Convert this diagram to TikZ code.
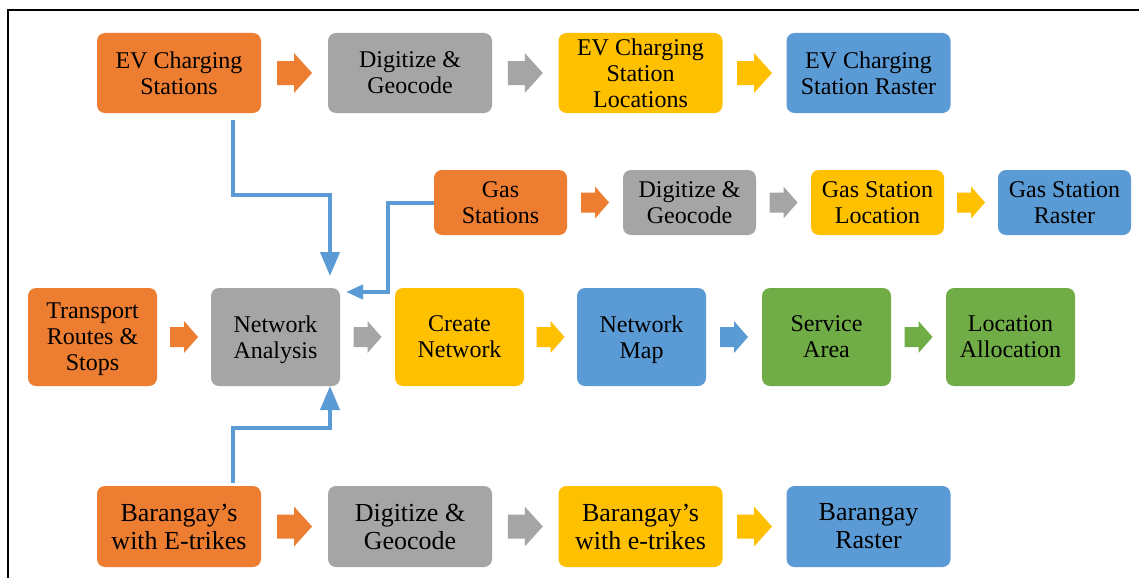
\documentclass[tikz,border=0pt]{standalone}
\usepackage{fontspec}
\setmainfont{Liberation Serif}
\usetikzlibrary{arrows.meta,calc}

\definecolor{cOrange}{HTML}{ED7D31}
\definecolor{cGray}{HTML}{A5A5A5}
\definecolor{cYellow}{HTML}{FFC000}
\definecolor{cBlue}{HTML}{5B9BD5}
\definecolor{cGreen}{HTML}{70AD47}

\tikzset{
  box/.style={rounded corners=8pt, inner sep=0pt, outer sep=0pt, align=center,
    text=black, font=\fontsize{24}{26}\selectfont},
  rowA/.style={box, minimum width=164pt, minimum height=80pt},
  rowB/.style={box, minimum width=133pt, minimum height=65pt},
  rowC/.style={box, minimum width=129pt, minimum height=98pt, text depth=0pt},
  rowD/.style={box, minimum width=164pt, minimum height=81pt,
    font=\fontsize{26}{28}\selectfont},
  link/.style={draw=cBlue, line width=4pt,
    -{Triangle[width=19pt,length=24pt]}},
  linksmall/.style={link, -{Triangle[width=14pt,length=17pt]}},
  frame/.style={draw=black, line width=1.2pt},
}

% block arrow centred between two nodes:
% #1 from, #2 to, #3 colour, #4 length, #5 half shaft, #6 half head, #7 head length
\newcommand\blockarrow[7]{%
  \coordinate (ba) at ($(#1.east)!0.5!(#2.west)$);
  \fill[#3] ([shift={(-#4/2,-#5)}]ba) -- ([shift={(#4/2-#7,-#5)}]ba)
    -- ([shift={(#4/2-#7,-#6)}]ba) -- ([shift={(#4/2,0)}]ba)
    -- ([shift={(#4/2-#7,#6)}]ba) -- ([shift={(#4/2-#7,#5)}]ba)
    -- ([shift={(-#4/2,#5)}]ba) -- cycle;}
\newcommand\bigarrow[3]{\blockarrow{#1}{#2}{#3}{35}{12}{20}{18}}
\newcommand\smallarrow[3]{\blockarrow{#1}{#2}{#3}{28}{10}{16}{14}}

\begin{document}
\begin{tikzpicture}[x=1pt,y=-1pt]
\useasboundingbox (0,0) rectangle (1139,578);
\fill[white] (0,0) rectangle (1139,578);
\draw[frame] (8,578) -- (8,10) -- (1139,10);

% EV charging row
\node[rowA, fill=cOrange] (ev)  at (179,73)   {EV Charging\\Stations};
\node[rowA, fill=cGray]   (dg1) at (410,73)   {Digitize \&\\Geocode};
\node[rowA, fill=cYellow] (evl) at (640.5,73) {EV Charging\\Station\\Locations};
\node[rowA, fill=cBlue]   (evr) at (868.5,73) {EV Charging\\Station Raster};

% gas station row
\node[rowB, fill=cOrange] (gas) at (500.5,202.5)  {Gas\\Stations};
\node[rowB, fill=cGray]   (dg2) at (689.5,202.5)  {Digitize \&\\Geocode};
\node[rowB, fill=cYellow] (gsl) at (877.5,202.5)  {Gas Station\\Location};
\node[rowB, fill=cBlue]   (gsr) at (1064.5,202.5) {Gas Station\\Raster};

% network row
\node[rowC, fill=cOrange] (tr) at (92.5,337)   {Transport\\Routes \&\\Stops};
\node[rowC, fill=cGray]   (na) at (275.5,337)  {Network\\Analysis};
\node[rowC, fill=cYellow] (cn) at (459.5,337)  {Create\\Network};
\node[rowC, fill=cBlue]   (nm) at (641.5,337)  {Network\\Map};
\node[rowC, fill=cGreen]  (sa) at (826.5,337)  {Service\\Area};
\node[rowC, fill=cGreen]  (la) at (1010.5,337) {Location\\Allocation};

% barangay row
\node[rowD, fill=cOrange] (br)  at (179,526.5)   {Barangay’s\\with E-trikes};
\node[rowD, fill=cGray]   (dg3) at (410,526.5)   {Digitize \&\\Geocode};
\node[rowD, fill=cYellow] (bre) at (640.5,526.5) {Barangay’s\\with e-trikes};
\node[rowD, fill=cBlue]   (brr) at (868.5,526.5) {Barangay\\Raster};

% block arrows
\bigarrow{ev}{dg1}{cOrange}
\bigarrow{dg1}{evl}{cGray}
\bigarrow{evl}{evr}{cYellow}

\smallarrow{gas}{dg2}{cOrange}
\smallarrow{dg2}{gsl}{cGray}
\smallarrow{gsl}{gsr}{cYellow}

\smallarrow{tr}{na}{cOrange}
\smallarrow{na}{cn}{cGray}
\smallarrow{cn}{nm}{cYellow}
\smallarrow{nm}{sa}{cBlue}
\smallarrow{sa}{la}{cGreen}

\bigarrow{br}{dg3}{cOrange}
\bigarrow{dg3}{bre}{cGray}
\bigarrow{bre}{brr}{cYellow}

% inputs to network analysis
\draw[link] ([shift={(54pt,-7pt)}]ev.south) -- ++(0,75)
  -| ([shift={(54.5pt,12pt)}]na.north);
\draw[linksmall] (gas.west) -- ++(-46,0)
  |- ([shift={(6pt,-4pt)}]na.north east);
\draw[link] ([shift={(54pt,3pt)}]br.north) -- ++(0,-55)
  -| ([xshift=54.5pt]na.south);
\end{tikzpicture}
\end{document}
